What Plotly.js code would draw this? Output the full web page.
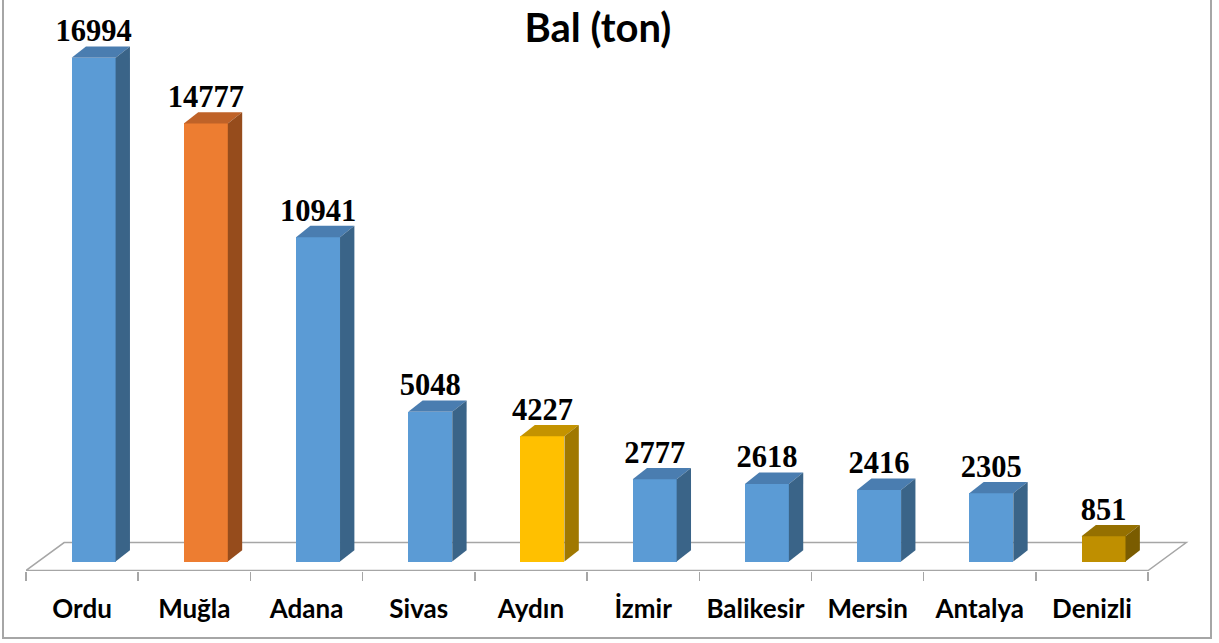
<!DOCTYPE html>
<html>
<head>
<meta charset="utf-8">
<script src="https://cdn.plot.ly/plotly-3.0.1.min.js"></script>
<style>
  body { margin: 0; background: #fff; }
  #wrap { position: relative; width: 1219px; height: 643px; overflow: hidden; }
  #chart { width: 1219px; height: 643px; }
  .frame { position: absolute; left: 2px; top: -10px; width: 1210px; height: 649px;
           border: 2px solid #a6a6a6; box-sizing: border-box; pointer-events: none; }
</style>
</head>
<body>
<div id="wrap">
  <div id="chart"></div>
  <div class="frame"></div>
</div>
<script>
// bal üretimi, il bazında (ton)
const regions = ['Ordu', 'Muğla', 'Adana', 'Sivas', 'Aydın', 'İzmir', 'Balikesir', 'Mersin', 'Antalya', 'Denizli'];
const honey = [16994, 14777, 10941, 5048, 4227, 2777, 2618, 2416, 2305, 851];

const frontColors = ['#5B9BD5', '#ED7D31', '#5B9BD5', '#5B9BD5', '#FFC000', '#5B9BD5', '#5B9BD5', '#5B9BD5', '#5B9BD5', '#BF8F00'];
const topColors   = ['#4A7DB0', '#BF6228', '#4A7DB0', '#4A7DB0', '#C49300', '#4A7DB0', '#4A7DB0', '#4A7DB0', '#4A7DB0', '#957000'];
const sideColors  = ['#3A6488', '#964C1C', '#3A6488', '#3A6488', '#A07800', '#3A6488', '#3A6488', '#3A6488', '#3A6488', '#7A5C00'];

// fake 3d depth, in axis units
const barShift = 0.1025;
const barWidth = 0.392;
const depthX = 0.128;
const depthY = 381;
const labelDrop = 80;
const floorFront = -303;
const floorBack = 640;
const floorDepthX = 0.34;

const centers = regions.map((r, i) => i + barShift);
const boundaries = regions.map((r, i) => i - 0.5).concat([regions.length - 0.5]);

let traces = [{
    x: centers,
    y: honey,
    type: 'bar',
    width: barWidth,
    marker: {color: frontColors, line: {width: 0}},
    hoverinfo: 'skip',
    showlegend: false,
}];

honey.forEach((v, i) => {
    const x0 = centers[i] - barWidth / 2;
    const x1 = centers[i] + barWidth / 2;
    traces.push({
        x: [x0, x1, x1 + depthX, x0 + depthX, x0],
        y: [v, v, v + depthY, v + depthY, v],
        type: 'scatter', mode: 'lines', fill: 'toself',
        fillcolor: topColors[i], line: {width: 0},
        hoverinfo: 'skip', showlegend: false,
    });
    traces.push({
        x: [x1, x1, x1 + depthX, x1 + depthX, x1],
        y: [0, v, v + depthY, depthY, 0],
        type: 'scatter', mode: 'lines', fill: 'toself',
        fillcolor: sideColors[i], line: {width: 0},
        hoverinfo: 'skip', showlegend: false,
    });
});

traces.push({
    x: centers,
    y: honey.map(v => v + depthY - labelDrop),
    type: 'scatter',
    mode: 'text',
    text: honey.map(String),
    textposition: 'top center',
    textfont: {family: 'Liberation Serif', size: 30.5, color: '#000', weight: 'bold'},
    hoverinfo: 'skip',
    showlegend: false,
});

const n = regions.length;
const floorPath = 'M ' + (-0.5) + ',' + floorFront +
    ' L ' + (n - 0.5) + ',' + floorFront +
    ' L ' + (n - 0.5 + floorDepthX) + ',' + floorBack +
    ' L ' + (-0.5 + floorDepthX) + ',' + floorBack + ' Z';

let layout = {
    width: 1219,
    height: 643,
    margin: {l: 26, r: 26, t: 10, b: 71.5},
    paper_bgcolor: '#fff',
    plot_bgcolor: 'rgba(0,0,0,0)',
    title: {
        text: 'Bal (ton)',
        font: {family: 'Lato', size: 40, color: '#000', weight: 'bold'},
        x: 0.4905, xanchor: 'center',
        y: 0.978, yanchor: 'top',
    },
    xaxis: {
        range: [-0.5, n - 0.5 + 0.4],
        tickmode: 'array',
        tickvals: regions.map((r, i) => i),
        ticktext: regions,
        ticks: '',
        ticklabelstandoff: 20,
        tickfont: {family: 'Lato', size: 26, color: '#000', weight: 'bold'},
        showgrid: false,
        zeroline: false,
        showline: false,
        minor: {tickmode: 'array', tickvals: boundaries, ticks: 'outside', ticklen: 9, tickwidth: 1.5, tickcolor: '#a6a6a6', showgrid: false},
        fixedrange: true,
    },
    yaxis: {
        range: [-320, 18604],
        visible: false,
        fixedrange: true,
    },
    bargap: 0,
    shapes: [{
        type: 'path',
        path: floorPath,
        xref: 'x', yref: 'y',
        layer: 'below',
        line: {color: '#a6a6a6', width: 1.5},
        fillcolor: 'rgba(0,0,0,0)',
    }],
    showlegend: false,
};

Plotly.newPlot('chart', traces, layout, {displayModeBar: false, staticPlot: true});
</script>
</body>
</html>
